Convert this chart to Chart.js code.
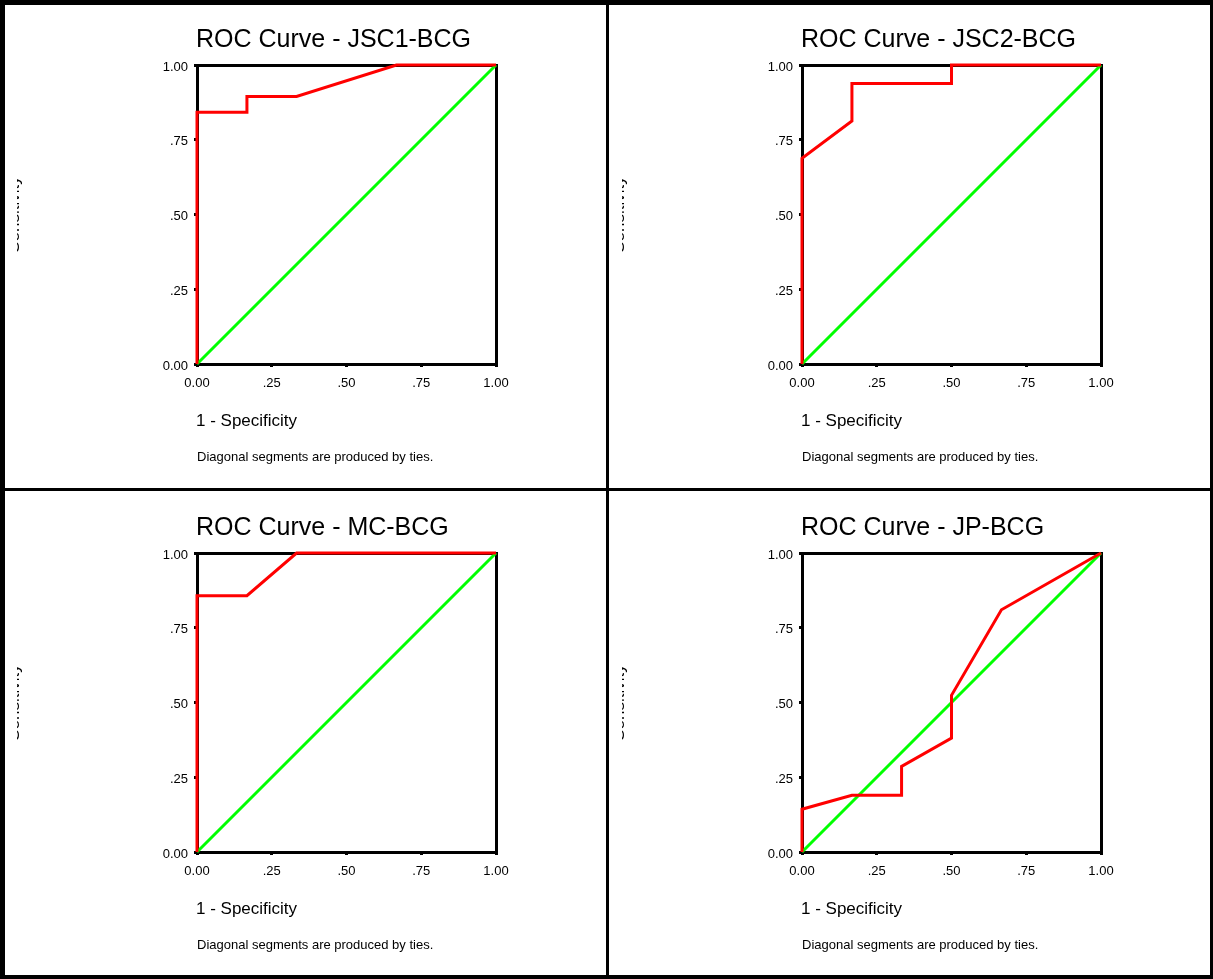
<!DOCTYPE html>
<html>
<head>
<meta charset="utf-8">
<script src="https://cdn.jsdelivr.net/npm/chart.js@4"></script>
<style>
	body { margin: 0; background: #fff; }
	#page { position: relative; width: 1213px; height: 979px; overflow: hidden; background: #fff; }
	canvas { position: absolute; }
	.line { position: absolute; background: #000; z-index: 2; }
</style>
</head>
<body>
<div id="page">
	<canvas id="myChart1" width="600" height="482" style="left:5px;top:5px"></canvas>
	<canvas id="myChart2" width="600" height="482" style="left:610px;top:5px"></canvas>
	<canvas id="myChart3" width="600" height="482" style="left:5px;top:493px"></canvas>
	<canvas id="myChart4" width="600" height="482" style="left:610px;top:493px"></canvas>
	<div class="line" style="left:0;top:0;width:1213px;height:5px"></div>
	<div class="line" style="left:0;top:975px;width:1213px;height:4px"></div>
	<div class="line" style="left:0;top:0;width:5px;height:979px"></div>
	<div class="line" style="left:1210px;top:0;width:3px;height:979px"></div>
	<div class="line" style="left:606px;top:0;width:3px;height:979px"></div>
	<div class="line" style="left:0;top:488px;width:1213px;height:3px"></div>
</div>
<script>
// Подписи делений (одинаковые для обеих осей)
const tickValues = [0, 0.25, 0.5, 0.75, 1];
const tickLabels = ['0.00', '.25', '.50', '.75', '1.00'];

const titles = [
	'ROC Curve - JSC1-BCG',
	'ROC Curve - JSC2-BCG',
	'ROC Curve - MC-BCG',
	'ROC Curve - JP-BCG'
];

// Точки ROC-кривых: 1 - специфичность / чувствительность
const jsc1Fpr = [0, 0, 0.167, 0.167, 0.333, 0.667, 1];
const jsc1Tpr = [0, 0.842, 0.842, 0.895, 0.895, 1, 1];
const jsc2Fpr = [0, 0, 0.167, 0.167, 0.5, 0.5, 1];
const jsc2Tpr = [0, 0.688, 0.813, 0.938, 0.938, 1, 1];
const mcFpr = [0, 0, 0.167, 0.333, 1];
const mcTpr = [0, 0.857, 0.857, 1, 1];
const jpFpr = [0, 0, 0.167, 0.333, 0.333, 0.5, 0.5, 0.667, 1];
const jpTpr = [0, 0.143, 0.19, 0.19, 0.286, 0.381, 0.524, 0.81, 1];

// Диагональ
const refX = [0, 1];
const refY = [0, 1];

const xTitle = '1 - Specificity';
const yTitle = 'Sensitivity';
const note = 'Diagonal segments are produced by ties.';

const FONT = '"Liberation Sans", Arial, sans-serif';

window.addEventListener('load', () => {
	Chart.defaults.font.family = FONT;
	Chart.defaults.color = '#000';

	const toPoints = (xs, ys) => xs.map((x, i) => ({ x: x, y: ys[i] }));

	// Заголовок, подписи осей и примечание
	const panelText = {
		id: 'panelText',
		afterDraw(chart, args, opts) {
			const ctx = chart.ctx;
			const area = chart.chartArea;
			ctx.save();
			ctx.fillStyle = '#000';
			ctx.textAlign = 'left';
			ctx.textBaseline = 'middle';
			ctx.font = '25px ' + FONT;
			ctx.fillText(opts.title, area.left - 1, 35);
			ctx.font = '17px ' + FONT;
			ctx.fillText(opts.xTitle, area.left - 1, 416);
			ctx.font = '13px ' + FONT;
			ctx.fillText(opts.note, area.left, 452);
			// подпись оси Y почти вся обрезана, как в оригинале
			ctx.beginPath();
			ctx.rect(12, 0, 40, chart.height);
			ctx.clip();
			ctx.translate(13.5, (area.top + area.bottom) / 2);
			ctx.rotate(-Math.PI / 2);
			ctx.textAlign = 'center';
			ctx.textBaseline = 'alphabetic';
			ctx.font = '17px ' + FONT;
			ctx.fillText(opts.yTitle, 0, 0);
			ctx.restore();
		}
	};

	const setTicks = (scale) => {
		scale.ticks = tickValues.map(v => ({ value: v }));
	};

	const mainAxis = (fit, pad, offset) => ({
		type: 'linear',
		min: 0,
		max: 1,
		afterBuildTicks: setTicks,
		afterFit: fit,
		grid: {
			display: true,
			drawOnChartArea: false,
			drawTicks: true,
			tickLength: 3,
			tickWidth: 3,
			tickColor: '#000',
			lineWidth: 3,
			color: '#000'
		},
		border: { display: true, width: 3, color: '#000' },
		ticks: {
			color: '#000',
			font: { size: 13 },
			padding: pad,
			labelOffset: offset,
			maxRotation: 0,
			autoSkip: false,
			callback: (v, i) => tickLabels[i]
		}
	});

	const frameAxis = (pos, fit) => ({
		type: 'linear',
		position: pos,
		min: 0,
		max: 1,
		afterFit: fit,
		grid: { display: false, lineWidth: 3 },
		border: { display: true, width: 3, color: '#000' },
		ticks: { display: false }
	});

	const makeConfig = (title, fpr, tpr) => ({
		type: 'scatter',
		data: {
			datasets: [{
				data: toPoints(fpr, tpr),
				showLine: true,
				borderColor: '#ff0000',
				backgroundColor: '#ff0000',
				borderWidth: 3,
				pointRadius: 0,
				tension: 0,
				clip: false
			}, {
				data: toPoints(refX, refY),
				showLine: true,
				borderColor: '#00ff00',
				backgroundColor: '#00ff00',
				borderWidth: 3,
				pointRadius: 0,
				clip: false
			}]
		},
		options: {
			responsive: false,
			animation: false,
			events: [],
			layout: {
				padding: { left: 0, top: 60, right: 109, bottom: 0 }
			},
			plugins: {
				legend: { display: false },
				tooltip: { enabled: false },
				panelText: { title: title, xTitle: xTitle, yTitle: yTitle, note: note }
			},
			scales: {
				x: Object.assign(mainAxis(s => { s.height = 123; }, 9, 0), { position: 'bottom' }),
				y: Object.assign(mainAxis(s => { s.width = 192; }, 6, 2), { position: 'left' }),
				x2: frameAxis('top', s => { s.height = 0; }),
				y2: frameAxis('right', s => { s.width = 0; })
			}
		},
		plugins: [panelText]
	});

	const configs = [
		makeConfig(titles[0], jsc1Fpr, jsc1Tpr),
		makeConfig(titles[1], jsc2Fpr, jsc2Tpr),
		makeConfig(titles[2], mcFpr, mcTpr),
		makeConfig(titles[3], jpFpr, jpTpr)
	];

	configs.forEach((cfg, i) => {
		const el = document.getElementById('myChart' + (i + 1));
		if (el) {
			new Chart(el, cfg);
		}
	});
});
</script>
</body>
</html>
